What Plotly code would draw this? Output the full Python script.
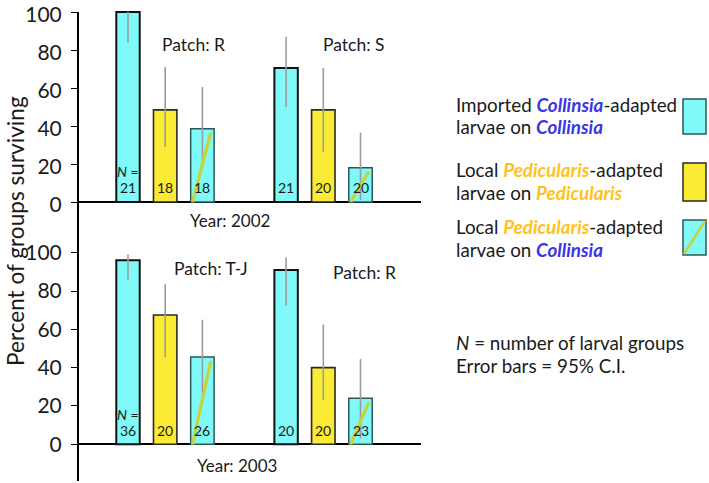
import plotly.graph_objects as go

# ---------------- data ----------------
years = ["2002", "2003"]
patches_2002 = ["R", "S"]
patches_2003 = ["T-J", "R"]

# order per patch: Imported Collinsia on Collinsia, Local Ped on Ped, Local Ped on Collinsia
surv_2002 = [100, 48.5, 38.5, 70.5, 48.5, 18]
ci_hi_2002 = [100, 71, 60.5, 87, 70.5, 36.5]
ci_lo_2002 = [84, 29, 19.5, 50, 26.5, 1]
n_2002 = [21, 18, 18, 21, 20, 20]

surv_2003 = [96, 67.5, 45.5, 91, 40, 24]
ci_hi_2003 = [99, 83.5, 65, 97.5, 62.5, 44.5]
ci_lo_2003 = [86, 45.5, 26.5, 72.5, 23, 3]
n_2003 = [36, 20, 26, 20, 20, 23]

y_ticks = [0, 20, 40, 60, 80, 100]

# ---------------- style ----------------
W, H = 709, 483
FONT = "Lato"
CYAN = "#80FAF8"
YELLOW = "#FCEB35"
HATCH = "#C8D23A"
BLUE = "#3A36E6"
GOLD = "#FFC21C"
TXT = "#1a1a1a"

def px(x):
    return x / W

def py(y):
    return 1 - y / H

GROUP_OFFSET = 4.25
BAR_W = 0.63

def xpos(k):
    g, i = divmod(k, 3)
    return g * GROUP_OFFSET + i

fig = go.Figure()

# axis geometry (pixels)
X0, X1 = 78, 421
K = 37.2          # pixels per x unit
xmin = -(128 - X0) / K
xmax = xmin + (X1 - X0) / K

split = 250
# top panel: 0 at 202, 100 at 12
s_top = (202 - 12) / 100
top_rng = [(202 - split) / s_top, (202 - 6) / s_top]
# bottom panel: 0 at 444.3, 100 at 252.7
s_bot = (444.3 - 252.7) / 100
bot_rng = [(444.3 - 483) / s_bot, (444.3 - split) / s_bot]

panels = [
    ("x", "y", surv_2002, ci_hi_2002, ci_lo_2002, n_2002),
    ("x2", "y2", surv_2003, ci_hi_2003, ci_lo_2003, n_2003),
]

styles = [
    dict(color=CYAN, line=dict(color="#111111", width=2)),
    dict(color=YELLOW, line=dict(color="#2a2a2a", width=1.6)),
    dict(color=CYAN, line=dict(color="#2c5858", width=1.5)),
]

for xa, ya, vals, hi, lo, ns in panels:
    for t in range(3):
        idx = [k for k in range(len(vals)) if k % 3 == t]
        xs = [xpos(k) for k in idx]
        v = [vals[k] for k in idx]
        fig.add_trace(go.Bar(
            x=xs, y=v, width=BAR_W, xaxis=xa, yaxis=ya,
            marker=dict(color=styles[t]["color"], line=styles[t]["line"]),
            error_y=dict(type="data", symmetric=False,
                         array=[hi[k] - vals[k] for k in idx],
                         arrayminus=[vals[k] - lo[k] for k in idx],
                         color="#9c9c9c", thickness=1.6, width=0),
            showlegend=False, hoverinfo="skip",
        ))
    # hatch lines on third bar of each group
    hx, hy = [], []
    for k in range(len(vals)):
        if k % 3 == 2:
            c = xpos(k)
            hx += [c - BAR_W / 2 + 0.05, c + BAR_W / 2 - 0.09, None]
            hy += [0, vals[k] - 2, None]
    fig.add_trace(go.Scatter(x=hx, y=hy, mode="lines", xaxis=xa, yaxis=ya,
                             line=dict(color=HATCH, width=3.2),
                             showlegend=False, hoverinfo="skip"))
    # N labels
    for k, n in enumerate(ns):
        fig.add_annotation(x=xpos(k), y=7.4, xref=xa, yref=ya, text=str(n),
                           showarrow=False, font=dict(family=FONT, size=14, color=TXT))
    fig.add_annotation(x=xpos(0), y=15.8, xref=xa, yref=ya, text="<i>N</i> =",
                       showarrow=False, font=dict(family=FONT, size=14, color=TXT))

axis_common = dict(range=[xmin, xmax], showgrid=False, zeroline=False,
                   showticklabels=False, showline=False, fixedrange=True,
                   automargin=False)
fig.update_layout(
    xaxis=dict(domain=[px(X0), px(X1)], anchor="y", **axis_common),
    xaxis2=dict(domain=[px(X0), px(X1)], anchor="y2", **axis_common),
)

yaxis_common = dict(tickvals=y_ticks, showgrid=False, zeroline=True,
                    zerolinecolor="#000000", zerolinewidth=2,
                    showline=False, ticks="outside", ticklen=6, tickwidth=1,
                    tickcolor="#000000", ticklabelstandoff=5, automargin=False,
                    ticklabeloverflow="allow", fixedrange=True,
                    tickfont=dict(family=FONT, size=21, color=TXT))
fig.update_layout(
    yaxis=dict(domain=[py(split), py(6)], range=top_rng, anchor="x",
               ticklabelshift=3, **yaxis_common),
    yaxis2=dict(domain=[py(H), py(split)], range=bot_rng, anchor="x2", **yaxis_common),
)

# continuous vertical axis line
fig.add_shape(type="line", xref="paper", yref="paper",
              x0=px(X0), x1=px(X0), y0=py(12), y1=py(481),
              line=dict(color="#000000", width=2))

def label(x, y, text, size, xanchor="center", color=TXT, angle=0):
    fig.add_annotation(x=px(x), y=py(y), xref="paper", yref="paper", text=text,
                       showarrow=False, xanchor=xanchor, yanchor="middle",
                       textangle=angle,
                       font=dict(family=FONT, size=size, color=color))

# panel / year labels
label(193, 44, "Patch: " + patches_2002[0], 17.5)
label(354, 45, "Patch: " + patches_2002[1], 17.5)
label(211, 268, "Patch: " + patches_2003[0], 17.5)
label(364, 272, "Patch: " + patches_2003[1], 17.5)
label(230, 221, "Year: " + years[0], 17)
label(237, 465, "Year: " + years[1], 17)

# y-axis title
label(15, 231, "Percent of groups surviving", 22.6, angle=-90)

# legend
col = lambda t: f"<b><i><span style='color:{BLUE}'>{t}</span></i></b>"
ped = lambda t: f"<b><i><span style='color:{GOLD}'>{t}</span></i></b>"
LX = 454
LS = 18.8
label(LX, 105, "Imported " + col("Collinsia") + "-adapted", LS, "left")
label(LX, 127, "larvae on " + col("Collinsia"), LS, "left")
label(LX, 169, "Local " + ped("Pedicularis") + "-adapted", LS, "left")
label(LX, 192, "larvae on " + ped("Pedicularis"), LS, "left")
label(LX, 227, "Local " + ped("Pedicularis") + "-adapted", LS, "left")
label(LX, 249, "larvae on " + col("Collinsia"), LS, "left")
label(LX, 342, "<i>N</i> = number of larval groups", LS, "left")
label(LX, 365, "Error bars = 95% C.I.", LS, "left")

# legend swatches
fig.add_shape(type="rect", xref="paper", yref="paper",
              x0=px(683), x1=px(706), y0=py(134), y1=py(99),
              fillcolor=CYAN, line=dict(color="#2c5858", width=1.5))
fig.add_shape(type="rect", xref="paper", yref="paper",
              x0=px(683), x1=px(706), y0=py(201), y1=py(163),
              fillcolor=YELLOW, line=dict(color="#2a2a2a", width=1.5))
fig.add_shape(type="rect", xref="paper", yref="paper",
              x0=px(683), x1=px(706), y0=py(255), y1=py(220),
              fillcolor=CYAN, line=dict(color="#2c5858", width=1.5))
fig.add_shape(type="line", xref="paper", yref="paper",
              x0=px(684), x1=px(705), y0=py(254), y1=py(221),
              line=dict(color=HATCH, width=2.5))

fig.update_layout(
    width=W, height=H,
    margin=dict(l=0, r=0, t=0, b=0),
    paper_bgcolor="white", plot_bgcolor="white",
    barmode="overlay",
    showlegend=False,
)

fig.write_html("out.html", config={"displayModeBar": False},
               post_script="document.body.style.margin='0';document.body.style.overflow='hidden';")
